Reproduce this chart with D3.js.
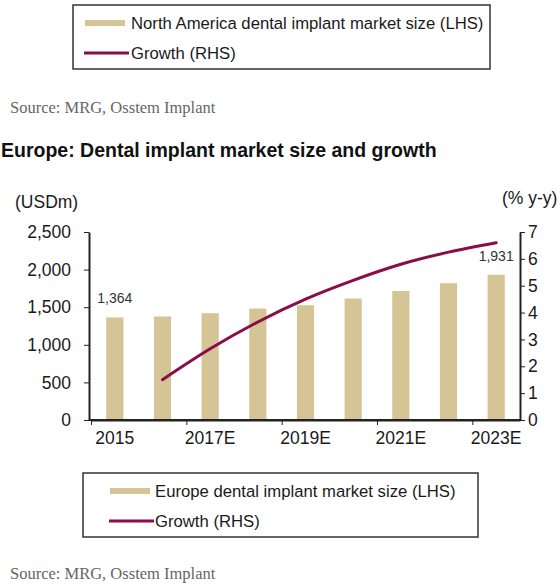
<!DOCTYPE html>
<html>
<head>
<meta charset="utf-8">
<script src="https://cdn.jsdelivr.net/npm/d3@7"></script>
<style>
  body { margin: 0; background: #fff; }
  svg { display: block; }
</style>
</head>
<body>
<div class="visHolder"></div>
<script>
// values
const years = ['2015', '2016', '2017E', '2018E', '2019E', '2020E', '2021E', '2022E', '2023E'];
const marketSize = [1364, 1376, 1420, 1482, 1526, 1615, 1716, 1819, 1931];
const growth = [null, 1.5, 2.65, 3.65, 4.5, 5.2, 5.8, 6.25, 6.6];
const shownLabels = ['2015', '2017E', '2019E', '2021E', '2023E'];
const leftTicks = [0, 500, 1000, 1500, 2000, 2500];
const rightTicks = [0, 1, 2, 3, 4, 5, 6, 7];
const valueLabels = {'2015': 1364, '2023E': 1931};

const w = 560, h = 588;
const barColor = '#d5c495';
const lineColor = '#8a0c48';
const sans = 'Liberation Sans, Arial, sans-serif';
const serif = 'Liberation Serif, Times New Roman, serif';

const svg = d3.select('.visHolder')
  .append('svg')
  .attr('width', w)
  .attr('height', h);

// legend box, used for the cut-off chart above and for this one
const drawLegend = (y0, x0, boxW, swatchX, textX, label) => {
  const g = svg.append('g');
  g.append('rect')
    .attr('x', x0).attr('y', y0)
    .attr('width', boxW).attr('height', 64)
    .attr('fill', '#fff')
    .attr('stroke', '#333')
    .attr('stroke-width', 1.5);
  g.append('line')
    .attr('x1', swatchX).attr('x2', swatchX + 40)
    .attr('y1', y0 + 18).attr('y2', y0 + 18)
    .attr('stroke', barColor).attr('stroke-width', 6);
  g.append('line')
    .attr('x1', swatchX - 1).attr('x2', swatchX + 44)
    .attr('y1', y0 + 48).attr('y2', y0 + 48)
    .attr('stroke', lineColor).attr('stroke-width', 3);
  g.selectAll('text')
    .data([label, 'Growth (RHS)'])
    .enter()
    .append('text')
    .attr('x', textX)
    .attr('y', (d, i) => y0 + 18 + i * 30)
    .attr('dy', '0.35em')
    .style('font-family', sans)
    .style('font-size', '16.7px')
    .style('fill', '#1a1a1a')
    .text(d => d);
};

drawLegend(5, 73, 417, 85, 131, 'North America dental implant market size (LHS)');

svg.append('text')
  .attr('x', 10).attr('y', 113)
  .style('font-family', serif)
  .style('font-size', '16.5px')
  .style('fill', '#666')
  .text('Source: MRG, Osstem Implant');

svg.append('text')
  .attr('x', 1).attr('y', 157)
  .style('font-family', sans)
  .style('font-size', '19.5px')
  .style('font-weight', 'bold')
  .style('fill', '#111')
  .text('Europe: Dental implant market size and growth');

// scales
const xScale = d3.scaleBand()
  .domain(years)
  .range([91, 520])
  .paddingInner(0.64)
  .paddingOuter(0.32);
const xIndex = d3.scaleLinear().domain([0, years.length]).range([91, 520]);
const yLeft = d3.scaleLinear().domain([0, 2500]).range([420, 232]);
const yRight = d3.scaleLinear().domain([0, 7]).range([420, 232]);

// bars
svg.selectAll('rect.bar')
  .data(years)
  .enter()
  .append('rect')
  .attr('class', 'bar')
  .attr('x', d => xScale(d))
  .attr('width', xScale.bandwidth())
  .attr('y', (d, i) => yLeft(marketSize[i]))
  .attr('height', (d, i) => 420 - yLeft(marketSize[i]))
  .attr('fill', barColor);

// value labels on first and last bar
svg.selectAll('text.val')
  .data(Object.keys(valueLabels))
  .enter()
  .append('text')
  .attr('class', 'val')
  .attr('x', d => xScale(d) + xScale.bandwidth() / 2)
  .attr('y', d => yLeft(valueLabels[d]) - 14)
  .attr('text-anchor', 'middle')
  .style('font-family', sans)
  .style('font-size', '14px')
  .style('fill', '#333')
  .text(d => d3.format(',')(valueLabels[d]));

// growth line
const line = d3.line()
  .defined(d => d[1] !== null)
  .x(d => xScale(d[0]) + xScale.bandwidth() / 2)
  .y(d => yRight(d[1]))
  .curve(d3.curveMonotoneX);

svg.append('path')
  .datum(years.map((d, i) => [d, growth[i]]))
  .attr('d', line)
  .attr('fill', 'none')
  .attr('stroke', lineColor)
  .attr('stroke-width', 3)
  .attr('stroke-linecap', 'round');

// axes
const styleAxis = g => {
  g.selectAll('text')
    .style('font-family', sans)
    .style('font-size', '17.5px')
    .style('fill', '#1a1a1a');
  g.selectAll('line, path').attr('stroke', '#222');
  g.select('.domain').attr('stroke-width', 2);
};

svg.append('g')
  .attr('id', 'y-axis')
  .attr('transform', 'translate(89, 0)')
  .call(d3.axisLeft(yLeft).tickValues(leftTicks).tickFormat(d3.format(',')).tickSize(5).tickSizeOuter(0).tickPadding(13))
  .call(styleAxis);

svg.append('g')
  .attr('id', 'y2-axis')
  .attr('transform', 'translate(520, 0)')
  .call(d3.axisRight(yRight).tickValues(rightTicks).tickFormat(d3.format('d')).tickSize(5).tickSizeOuter(0).tickPadding(3))
  .call(styleAxis);

// tick marks sit between every other pair of bars, labels under the bars
svg.append('g')
  .attr('id', 'x-axis')
  .attr('transform', 'translate(0, 420)')
  .call(d3.axisBottom(xIndex).tickValues([0, 2, 4, 6, 8]).tickFormat('').tickSize(5).tickSizeOuter(0))
  .call(styleAxis);

svg.append('g')
  .attr('transform', 'translate(0, 420)')
  .call(d3.axisBottom(xScale).tickValues(shownLabels).tickSize(0).tickPadding(12))
  .call(styleAxis)
  .call(g => g.select('.domain').attr('d', 'M89,0H520'));

svg.append('text')
  .attr('x', 15).attr('y', 208)
  .style('font-family', sans)
  .style('font-size', '17.5px')
  .style('fill', '#1a1a1a')
  .text('(USDm)');

svg.append('text')
  .attr('x', 502).attr('y', 204)
  .style('font-family', sans)
  .style('font-size', '17.5px')
  .style('fill', '#1a1a1a')
  .text('(% y-y)');

// bottom legend and source
drawLegend(473, 83, 395, 110, 155, 'Europe dental implant market size (LHS)');

svg.append('text')
  .attr('x', 10).attr('y', 579)
  .style('font-family', serif)
  .style('font-size', '16.5px')
  .style('fill', '#666')
  .text('Source: MRG, Osstem Implant');
</script>
</body>
</html>
